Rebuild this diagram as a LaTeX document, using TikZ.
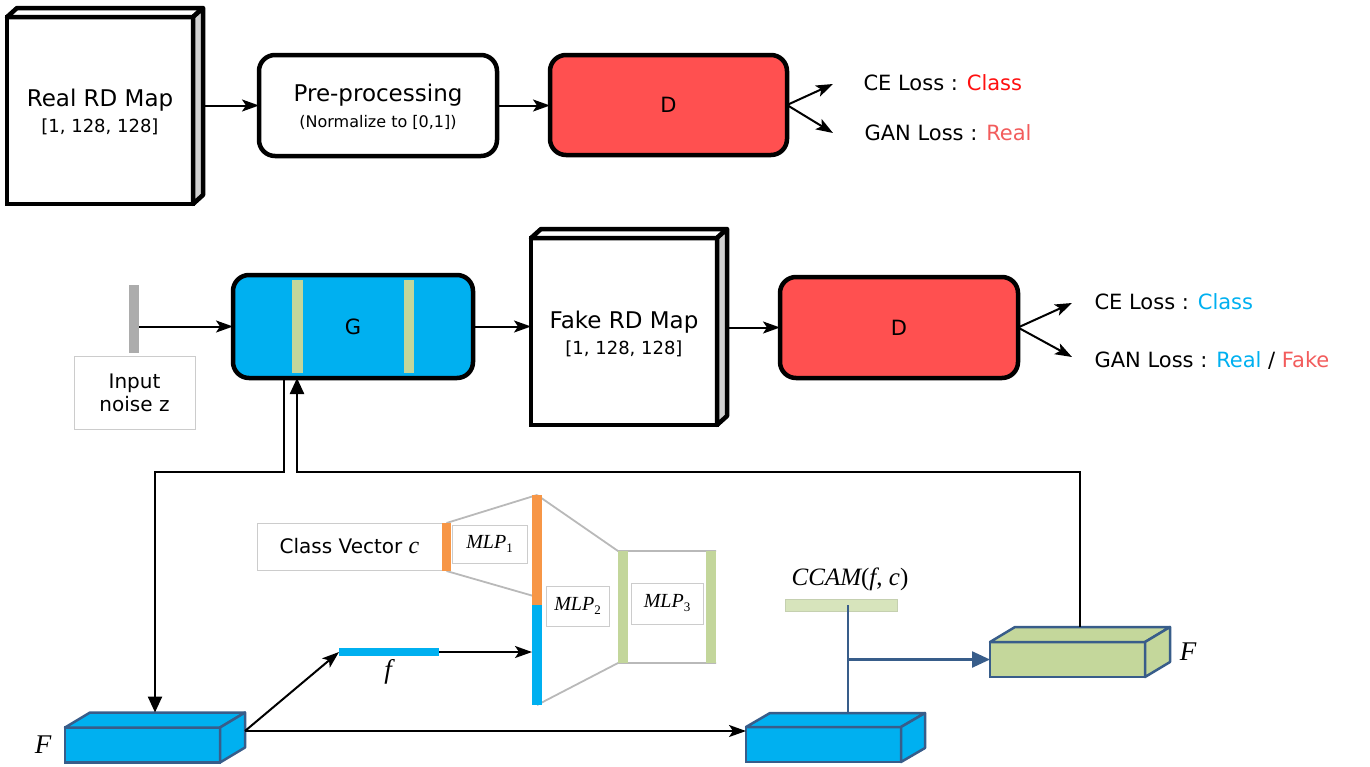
\documentclass[tikz,border=0pt]{standalone}
\usepackage{fontspec}
\setmainfont{DejaVu Sans}
\newfontfamily\lsf{Liberation Serif}
\usetikzlibrary{arrows.meta,calc}
\definecolor{cyanb}{HTML}{00B0F0}
\definecolor{redd}{HTML}{FF5050}
\definecolor{stripe}{HTML}{C3D69B}
\definecolor{dblue}{HTML}{385D8A}
\definecolor{orng}{HTML}{F79646}
\definecolor{lgreen}{HTML}{D7E4BC}
\definecolor{gboxc}{HTML}{C4D79B}
\definecolor{realred}{HTML}{F25C5C}
\definecolor{classred}{HTML}{FF1010}
\definecolor{sidegray}{HTML}{D0D0D0}
\newcommand\boxfaces[6]{%
  \draw[#6,fill=#4] (#1.north west) -- ++(#2,-#3) -- ($(#1.north east)+(#2,-#3)$) -- (#1.north east) -- cycle;
  \draw[#6,fill=#5] (#1.north east) -- ++(#2,-#3) -- ($(#1.south east)+(#2,-#3)$) -- (#1.south east) -- cycle;}
\newcommand\mlplab[1]{{\lsf\itshape MLP}\raisebox{-4pt}{\lsf\fontsize{13}{13}\selectfont #1}}
\begin{document}
\begin{tikzpicture}[x=1pt,y=-1pt,
  arr/.style={line width=2pt, -{Stealth[length=17pt,width=12pt,inset=4pt]}},
  bigarr/.style={-{Triangle[length=16pt,width=14pt]}, line width=2.4pt},
  dbarr/.style={dblue, line width=2.4pt, -{Triangle[length=18pt,width=16pt]}},
  dbline/.style={dblue, line width=2.4pt},
  mapface/.style={draw, line width=4.5pt, fill=white, outer sep=0, inner sep=0, minimum width=186, minimum height=187},
  mapedge/.style={line width=4.5pt, line join=round},
  rbox/.style={draw, line width=4.5pt, rounded corners=16pt, outer sep=0, inner sep=0},
  cube/.style={draw=dblue, line width=2.5pt, outer sep=0, inner sep=0, minimum width=155, minimum height=35},
  cubeedge/.style={draw=dblue, line width=2.5pt, line join=round},
  thinbox/.style={draw=gray!40, line width=0.9pt, inner sep=0, outer sep=0},
  bar/.style={inner sep=0, outer sep=0},
  gline/.style={draw=gray!55, line width=1.8pt},
  t23/.style={font=\fontsize{23}{27}\selectfont},
  t21/.style={font=\fontsize{21}{25}\selectfont},
  t20/.style={font=\fontsize{20}{24}\selectfont},
  t18/.style={font=\fontsize{18}{22}\selectfont},
  t16/.style={font=\fontsize{16}{19}\selectfont},
  tm/.style={font=\fontsize{20}{22}\selectfont},
  mathlab/.style={font=\lsf\itshape\fontsize{27}{30}\selectfont},
]
\useasboundingbox (0,0) rectangle (1370,766);

% ---------- top row ----------
\node[mapface] (real) at (100,110.5) {};
\boxfaces{real}{10}{9}{white}{sidegray}{mapedge}
\node[t23] (realt) at (100,100) {Real RD Map};
\node[t18] (reals) at (100,127) {[1, 128, 128]};

\node[rbox, minimum width=238, minimum height=101] (pre) at (378,105.5) {};
\node[t23] (pret) at (378,95) {Pre-processing};
\node[t16] (pres) at (378,122) {(Normalize to [0,1])};

\node[rbox, fill=redd, minimum width=237, minimum height=100, t21] (d1) at (668.5,105) {D};

\draw[arr] ($(real.east |- pre.west)+(10,0)$) -- (pre.west);
\draw[arr] (pre.east) -- (pre.east -| d1.west);

\coordinate (ce1a) at (833,84);
\coordinate (gan1a) at (833,133);
\draw[arr] (d1.east) -- (ce1a);
\draw[arr] (d1.east) -- (gan1a);
\node[t21, anchor=west] (ce1) at (860,83) {CE Loss : \textcolor{classred}{Class}};
\node[t21, anchor=west] (gan1) at (861,133) {GAN Loss : \textcolor{realred}{Real}};

% ---------- middle row ----------
\node[bar, fill=gray!65, minimum width=10, minimum height=68] (noisebar) at (134,319) {};
\node[thinbox, minimum width=121, minimum height=73, align=center, t20] (noise) at (134.5,392.5) {Input\\[-1pt]noise z};

\node[rbox, fill=cyanb, minimum width=240, minimum height=103, t21,
  path picture={
    \fill[stripe, sharp corners] ($(path picture bounding box.north west)+(59,5)$) rectangle ($(path picture bounding box.south west)+(70,-5)$);
    \fill[stripe, sharp corners] ($(path picture bounding box.north west)+(171,5)$) rectangle ($(path picture bounding box.south west)+(181,-5)$);
  }] (g) at (353,326.5) {G};

\draw[arr] (noisebar.east |- g.west) -- (g.west);

\node[mapface] (fake) at (624,331.5) {};
\boxfaces{fake}{10}{9}{white}{sidegray}{mapedge}
\node[t23] (faket) at (624,322) {Fake RD Map};
\node[t18] (fakes) at (624,349) {[1, 128, 128]};

\node[rbox, fill=redd, minimum width=238, minimum height=101, t21] (d2) at (899,327.5) {D};

\draw[arr] (g.east) -- (g.east -| fake.west);
\draw[arr] ($(fake.east |- d2.west)+(10,0)$) -- (d2.west);

\coordinate (ce2a) at (1072,303);
\coordinate (gan2a) at (1072,357);
\draw[arr] (d2.east) -- (ce2a);
\draw[arr] (d2.east) -- (gan2a);
\node[t21, anchor=west] (ce2) at (1091,302) {CE Loss : \textcolor{cyanb}{Class}};
\node[t21, anchor=west] (gan2) at (1091,360) {GAN Loss : \textcolor{cyanb}{Real} / \textcolor{realred}{Fake}};

% ---------- bottom ----------
\node[cube, fill=cyanb] (fb) at (142.5,745) {};
\boxfaces{fb}{25}{15}{cyanb}{cyanb}{cubeedge}
\node[mathlab] (fbl) at (43,745) {F};

\node[cube, fill=cyanb] (fb2) at (823.5,744.5) {};
\boxfaces{fb2}{24}{14}{cyanb}{cyanb}{cubeedge}

\node[cube, fill=gboxc] (gf) at (1067.5,659.5) {};
\boxfaces{gf}{25}{15}{gboxc}{gboxc}{cubeedge}
\node[mathlab] (gfl) at (1188,652) {F};

% G -> F and F(green) -> G
\coordinate (fbtop) at ($(fb.north)+(12.5,-15)$);
\coordinate (j1) at (155,472);
\draw[bigarr] ([xshift=51]g.south west) |- (j1) -- (fbtop);
\coordinate (gftop) at ($(gf.north)+(12.5,-15)$);
\coordinate (j2) at (297,472);
\draw[bigarr] (gftop) |- (j2) -- ([xshift=64]g.south west);

% MLP structure
\node[thinbox, minimum width=185, minimum height=47, t20] (cv) at (349.5,546.5) {Class Vector {\lsf\itshape\fontsize{24}{26}\selectfont c}};
\node[bar, fill=orng, minimum width=9, minimum height=48] (smo) at (446.5,547) {};
\node[bar, fill=orng, minimum width=10, minimum height=110] (bigo) at (537,550) {};
\node[bar, fill=cyanb, minimum width=10, minimum height=100] (bigc) at (537,655) {};
\node[bar, fill=stripe, minimum width=10, minimum height=112] (gl) at (623,607) {};
\node[bar, fill=stripe, minimum width=10, minimum height=112] (gr) at (711,607) {};
\draw[gline] (smo.north) -- (bigo.north);
\draw[gline] (smo.south) -- ([yshift=8]bigo.south);
\draw[gline] (bigo.north) -- (gl.north west) -- (gr.north east);
\draw[gline] (bigc.south) -- (gl.south west) -- (gr.south east);
\node[bar, fill=orng, minimum width=9, minimum height=48] at (smo) {};
\node[bar, fill=orng, minimum width=10, minimum height=110] at (bigo) {};
\node[bar, fill=cyanb, minimum width=10, minimum height=100] at (bigc) {};
\node[bar, fill=stripe, minimum width=10, minimum height=112] at (gl) {};
\node[bar, fill=stripe, minimum width=10, minimum height=112] at (gr) {};
\node[thinbox, fill=white, minimum width=75, minimum height=38, tm] (m1) at (489.5,544) {\mlplab{1}};
\node[thinbox, fill=white, minimum width=63, minimum height=40, tm] (m2) at (577.5,606) {\mlplab{2}};
\node[thinbox, fill=white, minimum width=72, minimum height=41, tm] (m3) at (667,603.5) {\mlplab{3}};

% f
\node[bar, fill=cyanb, minimum width=100, minimum height=8] (fbar) at (389,652) {};
\node[mathlab] (fl) at (388,672) {f};
\coordinate (fbr) at ($(fb.east)+(25,-14)$);
\draw[arr] (fbr) -- (fbar.west);
\draw[arr] (fbr) -- (fbr -| fb2.west);
\draw[arr] (fbar.east) -- (fbar.east -| bigc.west);

% CCAM
\node[font=\lsf\fontsize{25}{28}\selectfont] (ccam) at (850,579) {\itshape CCAM\upshape(\itshape f\upshape, \itshape c\upshape)};
\node[bar, fill=lgreen, draw=lgreen!80!gray, line width=0.6pt, minimum width=112, minimum height=12] (cbar) at (841,605) {};
\coordinate (cc) at ([xshift=7]cbar.center);
\draw[dbline] (cc) -- (cc |- 0,713);
\draw[dbarr] (cc |- gf.west) -- (gf.west);
\end{tikzpicture}
\end{document}
